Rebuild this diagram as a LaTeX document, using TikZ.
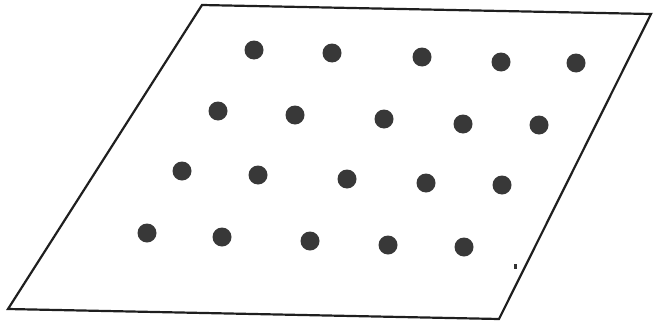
\documentclass[tikz,border=0pt]{standalone}
\begin{document}
\begin{tikzpicture}[x=1pt,y=-1pt,
  dotc/.style={circle,fill=black!78,inner sep=0pt,minimum size=19pt},
  edge/.style={draw=black!88,line width=2.2pt,line join=miter}]
\useasboundingbox (0,0) rectangle (655,324);
\coordinate (tl) at (202,5);
\coordinate (tr) at (651,14);
\coordinate (br) at (499,319);
\coordinate (bl) at (8,309);
\draw[edge] (tl) -- (tr) -- (br) -- (bl) -- cycle;
% row 1
\node[dotc] (a1) at (254,50) {};
\node[dotc] (a2) at (332,53) {};
\node[dotc] (a3) at (422,57) {};
\node[dotc] (a4) at (501,62) {};
\node[dotc] (a5) at (576,63) {};
% row 2
\node[dotc] (b1) at (218,111) {};
\node[dotc] (b2) at (295,115) {};
\node[dotc] (b3) at (384,119) {};
\node[dotc] (b4) at (463,124) {};
\node[dotc] (b5) at (539,125) {};
% row 3
\node[dotc] (c1) at (182,171) {};
\node[dotc] (c2) at (258,175) {};
\node[dotc] (c3) at (347,179) {};
\node[dotc] (c4) at (426,183) {};
\node[dotc] (c5) at (502,185) {};
% row 4
\node[dotc] (d1) at (147,233) {};
\node[dotc] (d2) at (222,237) {};
\node[dotc] (d3) at (310,241) {};
\node[dotc] (d4) at (388,245) {};
\node[dotc] (d5) at (464,247) {};
% speck
\fill[black!80] (514,264) rectangle (517,269);
\end{tikzpicture}
\end{document}
